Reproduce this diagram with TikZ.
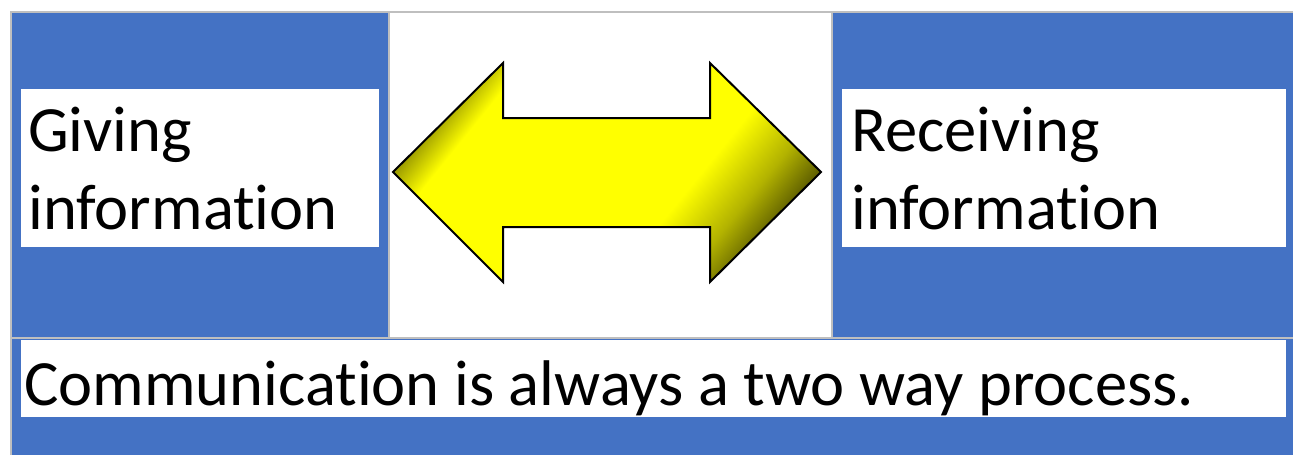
\documentclass[tikz,border=0pt]{standalone}
\usepackage{fontspec}
\setmainfont[Ligatures=NoCommon]{Carlito}
\definecolor{cellblue}{HTML}{4472C4}
\definecolor{gridgray}{HTML}{BFBFBF}
\pgfdeclarehorizontalshading{arrowshine}{100bp}{color(0bp)=(yellow!50!black); color(25bp)=(yellow!60!black); color(30bp)=(yellow); color(61bp)=(yellow); color(69bp)=(yellow!70!black); color(76bp)=(yellow!30!black); color(100bp)=(yellow!30!black)}

\begin{document}
\begin{tikzpicture}[x=0.75pt, y=-0.75pt,
        bluecell/.style={fill=cellblue},
        whitebox/.style={fill=white},
        gridline/.style={draw=gridgray, line width=1.2pt},
        twoway/.style={shade, shading=arrowshine, shading angle=-39, draw=black, line width=1.5pt, line join=miter},
        every node/.style={inner sep=0pt, font=\fontsize{48.4}{58.5}\selectfont, align=left, anchor=base west},
    ]
    \useasboundingbox (0,0) rectangle (1293,455);
    % cells
    \fill[bluecell] (11,12) rectangle (389,338);
    \fill[bluecell] (832,12) rectangle (1293,338);
    \fill[bluecell] (11,338) rectangle (1293,455);
    \fill[whitebox] (21,89) rectangle (379,247);
    \fill[whitebox] (842,89) rectangle (1286,247);
    \fill[whitebox] (21,340) rectangle (1286,417);
    % grid
    \draw[gridline] (11,455) -- (11,12) -- (1293,12);
    \draw[gridline] (389,12) -- (389,338);
    \draw[gridline] (832,12) -- (832,338);
    \draw[gridline] (11,338) -- (1293,338);
    % double arrow
    \path[twoway] (393,172) -- (503,63) -- (503,118) -- (710,118) -- (710,63)
        -- (821,172) -- (710,282) -- (710,227) -- (503,227) -- (503,282) -- cycle;
    \node (giving) at (28,229) {Giving\\information};
    \node (receiving) at (851,229) {Receiving\\information};
    \node (process) at (24,405) {Communication is always a two way process.};
\end{tikzpicture}
\end{document}
